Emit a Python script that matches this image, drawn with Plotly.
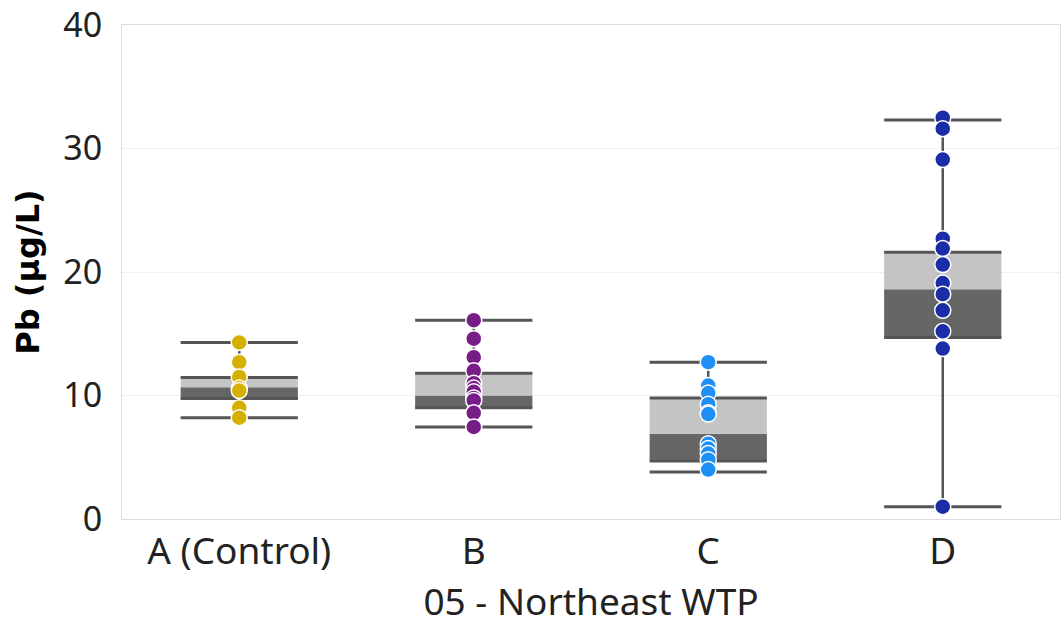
import plotly.graph_objects as go

categories = ["A (Control)", "B", "C", "D"]
colors = ["#D6B000", "#781C88", "#1E8FF5", "#1A2DA6"]

# box statistics per category
lower_fence = [8.2, 7.45, 3.8, 1.0]
q1 = [9.76, 9.0, 4.7, 14.7]
median = [10.67, 10.0, 6.9, 18.6]
q3 = [11.45, 11.8, 9.8, 21.6]
upper_fence = [14.3, 16.1, 12.7, 32.3]

# individual sample values
points_A = [14.3, 12.7, 11.5, 10.6, 10.4, 9.0, 8.2]
points_B = [16.1, 14.6, 13.1, 12.0, 11.0, 10.6, 10.3, 9.8, 9.6, 8.6, 7.45]
points_C = [12.7, 10.8, 10.2, 9.3, 8.6, 8.5, 6.1, 5.7, 5.3, 4.8, 4.0]
points_D = [32.5, 31.6, 29.1, 22.7, 21.9, 20.6, 19.1, 18.2, 16.9, 15.2, 13.8, 1.0]
points = [points_A, points_B, points_C, points_D]

x_pos = list(range(len(categories)))
box_w = 0.5
edge_col = "#555555"
font_fam = "Noto Sans, Open Sans, sans-serif"

fig = go.Figure()

# whisker lines
wx, wy = [], []
for i in x_pos:
    wx += [i, i, None, i, i, None]
    wy += [lower_fence[i], q1[i], None, q3[i], upper_fence[i], None]
fig.add_trace(go.Scatter(x=wx, y=wy, mode="lines", line=dict(color=edge_col, width=2.5),
                         hoverinfo="skip", showlegend=False))

# lower half (dark) and upper half (light) of boxes
fig.add_trace(go.Bar(x=x_pos, base=q1, y=[m - a for m, a in zip(median, q1)], width=box_w,
                     marker=dict(color="#666666", line=dict(width=0)), showlegend=False))
fig.add_trace(go.Bar(x=x_pos, base=median, y=[b - m for b, m in zip(q3, median)], width=box_w,
                     marker=dict(color="#C4C4C4", line=dict(width=0)), showlegend=False))

# caps and box edges
cx, cy = [], []
for i in x_pos:
    for v in (lower_fence[i], q1[i], q3[i], upper_fence[i]):
        cx += [i - box_w / 2, i + box_w / 2, None]
        cy += [v, v, None]
fig.add_trace(go.Scatter(x=cx, y=cy, mode="lines", line=dict(color=edge_col, width=3),
                         hoverinfo="skip", showlegend=False))

# points
for i, vals in enumerate(points):
    fig.add_trace(go.Scatter(x=[i] * len(vals), y=vals, mode="markers",
                             marker=dict(color=colors[i], size=16, line=dict(color="white", width=1.5)),
                             showlegend=False))

fig.update_layout(
    width=1064, height=630,
    margin=dict(l=122, r=4, t=25, b=111),
    paper_bgcolor="white", plot_bgcolor="white",
    barmode="overlay",
    font=dict(family=font_fam, color="#222222"),
    xaxis=dict(range=[-0.5, 3.5], tickmode="array", tickvals=x_pos, ticktext=categories,
               tickfont=dict(size=37, color="#222"), showgrid=False, zeroline=False,
               showline=True, linecolor="#dddddd", linewidth=1, mirror=True, ticks="",
               ticklabelstandoff=0, automargin=False,
               title=dict(text="05 - Northeast WTP", font=dict(size=37, color="#222"), standoff=14)),
    yaxis=dict(range=[0, 40], tickvals=[0, 10, 20, 30, 40], tickfont=dict(size=34, color="#222"),
               showgrid=True, gridcolor="#f0f0f0", zeroline=False,
               showline=True, linecolor="#dddddd", linewidth=1, mirror=True, ticks="",
               ticklabelstandoff=12, ticklabeloverflow="allow", automargin=False,
               title=dict(text="<b>Pb (µg/L)</b>",
                          font=dict(size=32, color="#000", family="DejaVu Sans, sans-serif"),
                          standoff=14)),
)

fig.write_html("out.html")
